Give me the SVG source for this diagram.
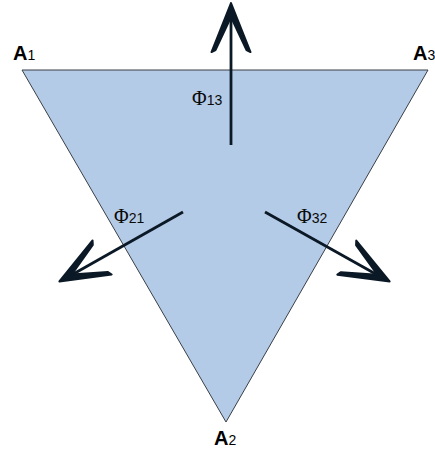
<svg xmlns="http://www.w3.org/2000/svg" width="435" height="450" viewBox="0 0 435 450">
<style>
.lbl{font-family:"Liberation Sans",Arial,sans-serif;fill:#000}
.big{font-size:20px;font-weight:bold}
.sub{font-size:14px}
.phi{font-family:"Liberation Serif","Times New Roman",serif;font-size:20px;fill:#0a0a0a}
.num{font-family:"Liberation Sans",Arial,sans-serif;font-size:14px;fill:#0a0a0a}
.shaft{stroke:#0b1826;stroke-width:2.8;fill:none}
.head{fill:#0b1826;stroke:#0b1826;stroke-width:2;stroke-linejoin:round}
</style>
<defs>
<polygon id="chev" points="3,0 -46,-19.5 -44,-15.5 -11,0 -44,15.5 -46,19.5"/>
</defs>
<rect width="435" height="450" fill="#fff"/>
<g id="triangle">
<polygon points="22,70 428,70 226,422" fill="#b4cbe7" stroke="#3a3f46" stroke-width="1"/>
</g>
<g id="labels-vertices">
<text class="lbl big" x="13" y="60">A<tspan class="sub" font-weight="normal">1</tspan></text>
<text class="lbl big" x="413" y="60">A<tspan class="sub" font-weight="normal">3</tspan></text>
<text class="lbl big" x="214" y="445">A<tspan class="sub" font-weight="normal">2</tspan></text>
</g>
<g id="connectors">
<g id="phi13">
<line class="shaft" x1="231" y1="145" x2="231" y2="12"/>
<use href="#chev" class="head" transform="translate(231,6) rotate(-90)"/>
</g>
<g id="phi21">
<line class="shaft" x1="183" y1="212" x2="68" y2="277"/>
<use href="#chev" class="head" transform="translate(62,280) rotate(150.7)"/>
</g>
<g id="phi32">
<line class="shaft" x1="265" y1="212" x2="381" y2="277"/>
<use href="#chev" class="head" transform="translate(387,280) rotate(29.1)"/>
</g>
</g>
<g id="flux-labels">
<text x="192" y="105"><tspan class="phi">Φ</tspan><tspan class="num">13</tspan></text>
<text x="114" y="223"><tspan class="phi">Φ</tspan><tspan class="num">21</tspan></text>
<text x="297" y="223"><tspan class="phi">Φ</tspan><tspan class="num">32</tspan></text>
</g>
</svg>
